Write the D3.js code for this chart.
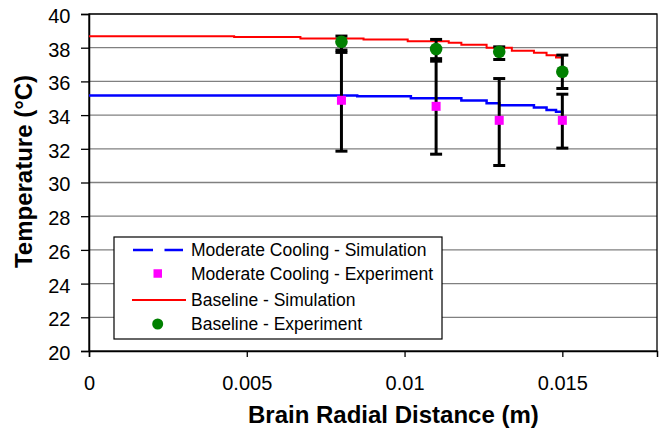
<!DOCTYPE html>
<html lang="en">
<head>
<meta charset="utf-8">
<script src="https://d3js.org/d3.v7.min.js"></script>
<style>
  body { margin: 0; background: #fff; }
  text { font-family: "Liberation Sans", Arial, sans-serif; }
</style>
</head>
<body>
<div id="chart"></div>
<script>
// experiment positions (m)
var xExp = [0.008, 0.011, 0.013, 0.015];
var baseExp = [38.35, 37.92, 37.76, 36.57];
var baseErrLo = [37.86, 37.35, 37.3, 35.58];
var baseErrHi = [38.69, 38.49, 38.05, 37.56];
var coolExp = [34.88, 34.52, 33.69, 33.69];
var coolErrLo = [31.86, 31.68, 31.01, 32.04];
var coolErrHi = [37.72, 37.2, 36.17, 35.24];

// simulation profiles
var baseSimX = [0, 0.0046, 0.0067, 0.0087, 0.0101, 0.0114, 0.0118, 0.0126, 0.0134, 0.0141, 0.0145, 0.0148, 0.015];
var baseSimT = [38.68, 38.63, 38.55, 38.49, 38.38, 38.29, 38.17, 38.0, 37.82, 37.7, 37.55, 37.42, 37.3];
var coolSimX = [0, 0.0085, 0.0102, 0.0118, 0.0126, 0.0130, 0.0141, 0.0145, 0.0148, 0.015];
var coolSimT = [35.16, 35.12, 35.0, 34.86, 34.7, 34.58, 34.45, 34.3, 34.2, 34.1];

var yTicks = d3.range(20, 41, 2);
var xTicks = [0, 0.005, 0.01, 0.015];
var xTickLabels = ["0", "0.005", "0.01", "0.015"];

var W = 663, H = 430;
var margin = {top: 14, right: 6, bottom: 79, left: 89};
var width = W - margin.left - margin.right,
    height = H - margin.top - margin.bottom;

var svg = d3.select("#chart").append("svg")
    .attr("width", W).attr("height", H);
var g = svg.append("g")
    .attr("transform", "translate(" + margin.left + "," + margin.top + ")");

var x = d3.scaleLinear().domain([0, 0.018]).range([0, width]);
var y = d3.scaleLinear().domain([20, 40]).range([height, 0]);

// grid
g.selectAll(".grid").data(yTicks.filter(function(d) { return d > 20; }))
  .enter().append("line")
    .attr("x1", 0).attr("x2", width)
    .attr("y1", function(d) { return y(d); }).attr("y2", function(d) { return y(d); })
    .attr("stroke", "#808080").attr("stroke-width", 1.3);

// frame
g.append("rect").attr("width", width).attr("height", height)
  .attr("fill", "none").attr("stroke", "#000").attr("stroke-width", 1.3);

// axes
var yAxis = g.append("g")
  .call(d3.axisLeft(y).tickValues(yTicks).tickSize(8).tickPadding(10.5));
var xAxis = g.append("g").attr("transform", "translate(0," + height + ")")
  .call(d3.axisBottom(x).tickValues(xTicks).tickSize(6).tickPadding(19)
        .tickFormat(function(d, i) { return xTickLabels[i]; }));
[yAxis, xAxis].forEach(function(a) {
  a.select(".domain").attr("stroke", "#000").attr("stroke-width", 1.5);
  a.selectAll(".tick line").attr("stroke", "#000").attr("stroke-width", 1.3);
  a.selectAll("text").attr("font-size", 20).attr("fill", "#000")
    .attr("font-family", "Liberation Sans, Arial, sans-serif");
});
yAxis.selectAll("text").attr("dy", "0.42em");

// simulation lines
var line = d3.line().curve(d3.curveStepAfter)
  .x(function(d) { return x(d[0]); }).y(function(d) { return y(d[1]); });
g.append("path").datum(d3.zip(coolSimX, coolSimT))
  .attr("d", line).attr("fill", "none").attr("stroke", "#0000ff").attr("stroke-width", 2.5);
g.append("path").datum(d3.zip(baseSimX, baseSimT))
  .attr("d", line).attr("fill", "none").attr("stroke", "#ff0000").attr("stroke-width", 2);

// error bars
function errorBars(lo, hi) {
  var eb = g.append("g");
  xExp.forEach(function(xv, i) {
    var cx = x(xv);
    eb.append("line").attr("x1", cx).attr("x2", cx)
      .attr("y1", y(lo[i])).attr("y2", y(hi[i]))
      .attr("stroke", "#000").attr("stroke-width", 3);
    [lo[i], hi[i]].forEach(function(v) {
      eb.append("line").attr("x1", cx - 6).attr("x2", cx + 6)
        .attr("y1", y(v)).attr("y2", y(v))
        .attr("stroke", "#000").attr("stroke-width", 3);
    });
  });
}
errorBars(coolErrLo, coolErrHi);
errorBars(baseErrLo, baseErrHi);

// markers
g.selectAll(".cool").data(d3.zip(xExp, coolExp)).enter().append("rect")
  .attr("x", function(d) { return x(d[0]) - 4.5; })
  .attr("y", function(d) { return y(d[1]) - 4.5; })
  .attr("width", 9).attr("height", 9).attr("fill", "#ff00ff");
g.selectAll(".base").data(d3.zip(xExp, baseExp)).enter().append("circle")
  .attr("cx", function(d) { return x(d[0]); })
  .attr("cy", function(d) { return y(d[1]); })
  .attr("r", 6.3).attr("fill", "#008000");

// axis titles
svg.append("text").attr("x", 248).attr("y", 423)
  .attr("font-size", 24).attr("font-weight", "bold")
  .text("Brain Radial Distance (m)");
svg.append("text").attr("transform", "translate(31.5,171.5) rotate(-90)")
  .attr("text-anchor", "middle").attr("font-size", 24).attr("font-weight", "bold")
  .text("Temperature (°C)");

// legend
var leg = svg.append("g");
leg.append("rect").attr("x", 114).attr("y", 237).attr("width", 328).attr("height", 102)
  .attr("fill", "#fff").attr("stroke", "#000").attr("stroke-width", 1.2);
var legItems = ["Moderate Cooling - Simulation", "Moderate Cooling - Experiment",
                "Baseline - Simulation", "Baseline - Experiment"];
var legY = [250, 273.5, 300, 324];
legItems.forEach(function(t, i) {
  leg.append("text").attr("x", 191).attr("y", legY[i] + 6.2)
    .attr("font-size", 17.5).attr("fill", "#000").text(t);
});
leg.append("line").attr("x1", 133).attr("x2", 183).attr("y1", legY[0]).attr("y2", legY[0])
  .attr("stroke", "#0000ff").attr("stroke-width", 2.5).attr("stroke-dasharray", "20,11.5");
leg.append("rect").attr("x", 153.5).attr("y", legY[1] - 4.25).attr("width", 8.5).attr("height", 8.5)
  .attr("fill", "#ff00ff");
leg.append("line").attr("x1", 132).attr("x2", 186).attr("y1", legY[2]).attr("y2", legY[2])
  .attr("stroke", "#ff0000").attr("stroke-width", 2);
leg.append("circle").attr("cx", 157.7).attr("cy", legY[3]).attr("r", 5.5).attr("fill", "#008000");
</script>
</body>
</html>
